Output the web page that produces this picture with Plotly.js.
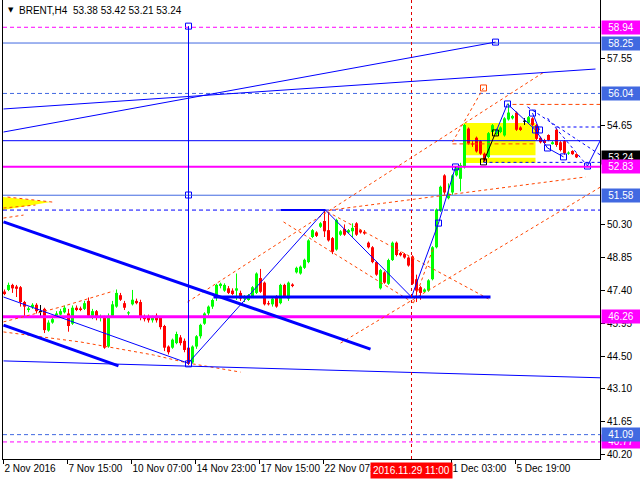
<!DOCTYPE html>
<html><head><meta charset="utf-8">
<script src="https://cdn.plot.ly/plotly-3.0.1.min.js"></script>
<style>html,body{margin:0;padding:0;background:#fff}#chart{width:640px;height:480px}</style>
</head><body><div id="chart"></div>
<script>
// ---- OHLC data (BRENT H4), bar index 0..143 ----
const openP = [47.36,47.43,47.65,47.58,47.55,46.90,46.55,46.68,46.78,46.46,
46.60,45.65,46.00,46.25,46.35,46.45,46.40,45.95,46.65,46.62,
46.60,46.95,46.30,46.50,46.20,46.20,44.95,46.30,46.70,47.20,
46.85,46.40,46.80,46.95,46.90,46.25,46.25,46.10,46.30,46.20,
45.85,44.95,44.90,45.10,45.35,45.20,44.90,44.25,44.95,45.40,
45.95,46.40,46.70,47.10,47.60,47.40,47.50,47.40,47.40,47.30,
47.05,46.99,47.15,47.30,47.95,47.75,46.85,46.80,47.10,46.85,
47.65,47.05,47.67,48.20,48.15,48.40,48.65,49.75,49.95,50.20,
50.45,50.05,49.70,49.20,49.85,50.10,49.95,50.00,50.35,50.05,
49.98,49.50,49.30,48.65,47.50,48.20,47.70,48.74,49.50,49.05,
49.00,48.85,48.90,47.90,47.55,47.35,47.40,47.90,49.30,50.90,
52.45,51.45,51.70,52.45,52.30,52.80,54.50,53.85,54.10,53.95,
53.40,53.25,54.35,54.25,54.35,54.20,54.90,54.95,55.20,54.55,
54.80,54.75,54.95,54.65,54.10,54.00,54.22,53.82,54.45,53.90,
53.95,53.40,53.52,53.38];
const highP = [47.45,47.75,47.70,47.65,47.60,46.95,46.70,46.85,46.85,46.77,
46.65,46.10,46.25,46.50,46.60,46.75,46.60,46.75,46.75,46.70,
46.95,47.10,46.60,46.55,46.35,46.30,46.40,46.95,47.45,47.30,
46.95,46.50,47.43,47.05,47.00,46.35,46.35,46.30,46.40,46.25,
45.90,45.00,45.30,45.60,45.45,45.30,45.00,45.00,45.45,45.95,
46.45,46.75,47.05,47.70,47.75,47.72,47.60,47.50,48.15,47.40,
47.20,47.25,47.60,48.20,48.35,47.80,46.95,47.10,47.20,47.70,
47.70,47.80,47.72,48.45,48.50,48.80,49.65,50.10,50.00,50.40,
50.90,50.85,49.75,50.55,50.05,50.30,50.10,50.35,50.40,50.10,
50.05,49.55,49.35,48.70,48.35,48.25,48.80,49.55,49.55,49.10,
49.05,48.90,48.95,48.10,47.60,47.50,47.90,49.35,51.00,52.00,
52.50,52.10,52.50,52.85,53.00,54.70,54.55,53.95,54.15,54.00,
53.45,54.35,54.70,54.50,54.60,55.00,55.60,55.10,55.25,54.60,
54.96,55.05,55.00,54.70,54.15,54.05,54.25,53.95,54.50,53.95,
54.00,53.50,53.55,53.42];
const lowP = [47.20,47.38,47.30,47.12,46.70,46.20,46.45,46.60,46.40,46.20,
45.54,45.60,45.95,46.20,46.30,46.40,45.60,45.90,46.50,46.50,
46.55,46.20,46.15,46.10,46.05,44.85,44.90,46.25,46.65,46.95,
46.55,46.30,46.75,46.80,46.10,46.05,46.00,46.00,46.00,45.70,
44.75,44.60,44.85,45.05,45.00,44.70,44.14,44.20,44.85,45.30,
45.90,46.30,46.60,46.95,47.50,47.35,47.25,47.20,46.99,46.95,
46.90,46.95,47.10,47.25,47.30,46.75,46.75,46.70,46.65,46.80,
47.10,46.95,47.55,48.15,48.10,48.35,48.60,49.70,49.75,50.15,
49.75,49.55,49.00,49.15,49.80,49.80,49.90,49.75,49.80,49.90,
49.85,49.25,48.60,48.05,47.45,47.70,47.65,48.70,48.90,48.90,
48.80,48.45,47.65,46.90,47.00,47.30,47.35,47.85,49.25,50.85,
51.60,51.40,51.60,52.40,51.75,52.75,53.80,53.70,53.45,53.35,
53.05,53.20,54.30,54.20,54.30,54.15,54.85,54.90,54.40,54.40,
54.66,54.70,54.60,54.00,53.85,53.80,53.95,53.80,53.70,53.50,
53.35,53.35,53.35,53.21];
const closeP = [47.25,47.65,47.50,47.48,46.90,46.70,46.62,46.78,46.50,46.46,
45.67,46.00,46.15,46.40,46.50,46.65,45.85,46.65,46.55,46.55,
46.85,46.30,46.50,46.20,46.25,44.90,46.30,46.80,47.30,47.00,
46.65,46.45,47.00,46.85,46.20,46.15,46.10,46.20,46.10,45.80,
44.90,44.70,45.25,45.50,45.10,44.80,44.20,44.95,45.40,45.90,
46.40,46.70,46.99,47.65,47.70,47.65,47.30,47.25,47.50,47.05,
47.10,47.20,47.55,48.15,47.35,46.80,46.80,47.05,46.70,47.65,
47.15,47.75,47.60,48.40,48.45,48.75,49.60,50.05,49.80,50.35,
50.00,49.60,49.10,50.50,50.00,49.85,50.05,50.15,49.85,49.95,
49.90,49.30,48.65,48.10,48.30,47.75,48.74,49.50,48.96,48.95,
48.85,48.50,47.70,47.40,47.30,47.45,47.85,49.30,50.95,51.95,
51.70,51.65,52.45,52.82,52.90,54.66,53.85,53.80,53.50,53.40,
53.10,54.30,54.65,54.45,54.55,54.95,55.20,55.05,54.45,54.44,
54.80,55.00,54.66,54.05,53.90,53.87,54.00,53.90,53.78,53.56,
53.43,53.45,53.38,53.24];

// ---- axis labels ----
const xTickBars = [0,16,32,48,64,80,112,128];
const xTickText = ['2 Nov 2016','7 Nov 15:00','10 Nov 07:00','14 Nov 23:00','17 Nov 15:00','22 Nov 07:00','1 Dec 03:00','5 Dec 19:00'];
const yTickVals = [57.55,54.65,50.30,48.85,47.40,45.95,44.50,43.10,41.65,40.20];
const yTickText = ['57.55','54.65','50.30','48.85','47.40','45.95','44.50','43.10','41.65','40.20'];
const titleText = 'BRENT,H4\u00a0\u00a053.38 53.42 53.21 53.24';
const cursorBar = 101.75;
const cursorText = '2016.11.29 11:00';

// ---- drawn objects (bar index, price) ----
const levels = [58.94,58.25,56.04,53.97,52.83,51.58,50.93,46.26,41.09,40.77];
const labelVals = [58.94,58.25,56.04,53.24,52.83,51.58,46.26,40.77,41.09];
const thickBlueSegs = [[52.25,47.12,121.5,47.12],[-0.25,50.41,91.5,44.84],[-0.25,45.89,28.5,44.10]];
const midBlueSegs = [[69,50.93,80.25,50.93]];
const thinBlueSegs = [[-0.25,54.35,122.75,58.29],[-0.25,55.36,147.75,57.11],[-0.25,44.32,149,43.58],
  [-0.25,47.12,45.75,44.23],[46,44.19,46,58.99],[132,55.18,133.75,54.44],[145.75,52.86,149,54.0]];
const thinBluePolys = [[[45.75,44.19],[80.25,50.93],[101.75,47.12],[108.5,50.36],[112.75,52.82]],
  [[122.75,54.31],[125.75,55.58],[132.75,54.44],[135.75,53.65],[139.75,53.26]]];
const dashBlueSegs = [[137.75,54.57,149,54.57],[119.75,53.02,149,53.02],[130.75,55.45,149,53.34],[135.75,54.96,145.75,52.86]];
const blackSegs = [[119.75,53.04,122.75,54.31]];
const orangeDashSegs = [[127,55.56,149,55.56],[112,53.83,132.75,53.83]];
const orangeDotSegs = [[45.75,46.90,135.25,57.02],[84,45.10,149,51.94],[79.75,50.89,145.25,52.38],[112,53.91,119.75,56.28],
  [69.75,50.41,102.25,46.86],[80.75,50.85,121.5,46.99],[102.25,46.86,107.25,49.31],[-0.25,50.58,4.75,50.71],
  [0.75,51.50,12,51.28],[-0.25,51.02,7.75,51.15]];
const orangeDotPolys = [[[-0.25,46.03],[14,46.68],[27.25,47.38]],
  [[-0.25,45.59],[19,45.15],[37.25,44.58],[45.75,44.23],[59,43.83]]];
const yellowRects = [[114.75,53.33,132.75,54.745],[114.75,52.99,132.75,53.22]];
const yellowTri = [[-0.5,51.50],[11.5,51.28],[-0.5,50.93]];
const blueSqX = [46,46,46,122.75,108.5,112.75,125.75,132,132.75,133.75,135.75,139.75,145.75];
const blueSqY = [58.99,51.59,44.19,58.29,50.36,52.82,55.58,55.18,54.44,54.44,53.65,53.26,52.86];
const blackSqX = [119.75,122.75];
const blackSqY = [53.04,54.31];
const orangeSqX = [119.75];
const orangeSqY = [56.28];

// ---- styles ----
const BLUE='#0000FF', ROYAL='#4169E1', MAG='#FF00FF', ORANGE='#FF4500', UP='#00FF00', DOWN='#FF0000';
const FONT='Liberation Sans, Arial, sans-serif';
const levelColor = [MAG,ROYAL,ROYAL,BLUE,MAG,ROYAL,BLUE,MAG,ROYAL,MAG];
const levelDash = ['4px,3px','solid','4px,3px','solid','solid','solid','4px,3px','solid','4px,3px','4px,3px'];
const levelWidth = [1,1,1,1,2,1,1,3,1,1];
const labelColor = [MAG,ROYAL,ROYAL,'#000000',MAG,ROYAL,MAG,MAG,ROYAL];

// ---- candle traces ----
function group(pred, color){
  const bx=[], bb=[], bh=[], wx=[], wy=[];
  for(let i=0;i<openP.length;i++){
    if(!pred(openP[i],closeP[i])) continue;
    const lo=Math.min(openP[i],closeP[i]);
    bx.push(i); bb.push(lo); bh.push(Math.max(Math.abs(closeP[i]-openP[i]),0.045));
    wx.push(i,i,null); wy.push(lowP[i],highP[i],null);
  }
  return [
    {type:'scatter',mode:'lines',x:wx,y:wy,line:{color:color,width:1},hoverinfo:'skip',connectgaps:false},
    {type:'bar',x:bx,base:bb,y:bh,width:0.75,marker:{color:color,line:{width:0}},hoverinfo:'skip'}
  ];
}
const traces = [].concat(
  group((o,c)=>c>o, UP),
  group((o,c)=>c<o, DOWN),
  group((o,c)=>c===o, '#000000'),
  [{type:'scatter',mode:'markers',x:blueSqX,y:blueSqY,marker:{symbol:'square-open',size:6,color:BLUE,line:{width:1}},hoverinfo:'skip'},
   {type:'scatter',mode:'markers',x:blackSqX,y:blackSqY,marker:{symbol:'square-open',size:6,color:'#000',line:{width:1}},hoverinfo:'skip'},
   {type:'scatter',mode:'markers',x:orangeSqX,y:orangeSqY,marker:{symbol:'square-open',size:6,color:ORANGE,line:{width:1}},hoverinfo:'skip'}]
);

// ---- shapes ----
const shapes = [];
yellowRects.forEach(r=>shapes.push({type:'rect',xref:'x',yref:'y',x0:r[0],y0:r[1],x1:r[2],y1:r[3],fillcolor:'#FFFF00',line:{width:0},layer:'below'}));
shapes.push({type:'path',xref:'x',yref:'y',layer:'below',fillcolor:'#FFFF00',line:{width:0},
  path:'M'+yellowTri.map(p=>p[0]+','+p[1]).join(' L')+' Z'});
levels.forEach((v,i)=>shapes.push({type:'line',xref:'paper',yref:'y',x0:0,x1:1,y0:v,y1:v,
  line:{color:levelColor[i],width:levelWidth[i],dash:levelDash[i]}}));
function segs(arr,color,width,dash){
  arr.forEach(s=>shapes.push({type:'line',xref:'x',yref:'y',x0:s[0],y0:s[1],x1:s[2],y1:s[3],line:{color:color,width:width,dash:dash}}));
}
function polys(arr,color,width,dash){
  arr.forEach(p=>shapes.push({type:'path',xref:'x',yref:'y',path:'M'+p.map(q=>q[0]+','+q[1]).join(' L'),line:{color:color,width:width,dash:dash}}));
}
segs(orangeDotSegs,ORANGE,1,'3px,3px');
polys(orangeDotPolys,ORANGE,1,'3px,3px');
segs(orangeDashSegs,ORANGE,1,'4px,3px');
segs(thickBlueSegs,BLUE,3,'solid');
segs(midBlueSegs,BLUE,2,'solid');
segs(thinBlueSegs,BLUE,1,'solid');
polys(thinBluePolys,BLUE,1,'solid');
segs(dashBlueSegs,BLUE,1,'3px,3px');
segs(blackSegs,'#000000',1,'solid');
shapes.push({type:'line',xref:'x',yref:'paper',x0:cursorBar,x1:cursorBar,y0:0,y1:1,line:{color:'#E00000',width:1,dash:'3px,3px'}});

// ---- annotations ----
const annotations = [];
labelVals.forEach((v,i)=>annotations.push({xref:'paper',yref:'y',x:1,y:v,xanchor:'left',yanchor:'middle',xshift:1,
  text:v.toFixed(2),showarrow:false,bgcolor:labelColor[i],font:{family:FONT,size:10,color:'#FFFFFF'},
  width:36,height:11,borderpad:1,align:'center'}));
annotations.push({xref:'paper',yref:'paper',x:0,y:1,xanchor:'left',yanchor:'top',xshift:3,yshift:-4,
  text:'\u25BC',showarrow:false,font:{family:'DejaVu Sans, sans-serif',size:7,color:'#000'}});
annotations.push({xref:'paper',yref:'paper',x:0,y:1,xanchor:'left',yanchor:'top',xshift:14,yshift:-3,
  text:titleText,showarrow:false,font:{family:FONT,size:10,color:'#000'}});
annotations.push({xref:'x',yref:'paper',x:cursorBar,y:0,xanchor:'center',yanchor:'top',yshift:-3,
  text:cursorText,showarrow:false,bgcolor:'#FF0000',borderpad:2,font:{family:FONT,size:10,color:'#FFFFFF'}});

const layout = {
  width:640,height:480,
  margin:{l:3,r:40,t:0,b:21,pad:0},
  paper_bgcolor:'#FFFFFF',plot_bgcolor:'#FFFFFF',
  showlegend:false,barmode:'overlay',
  xaxis:{range:[-0.375,148.875],showgrid:false,zeroline:false,showline:true,linecolor:'#000',linewidth:1,
    tickvals:xTickBars.map(b=>b-0.25),ticktext:xTickText,ticks:'outside',ticklen:4,tickcolor:'#000',tickangle:0,
    automargin:false,ticklabelposition:'outside right',tickfont:{family:FONT,size:10,color:'#000'},fixedrange:true},
  yaxis:{side:'right',range:[40.022,60.135],showgrid:false,zeroline:false,showline:true,mirror:true,automargin:false,
    linecolor:'#000',linewidth:1,tickvals:yTickVals,ticktext:yTickText,ticks:'outside',ticklen:4,tickcolor:'#000',
    tickfont:{family:FONT,size:10,color:'#000'},fixedrange:true},
  shapes:shapes,annotations:annotations
};
Plotly.newPlot('chart',traces,layout,{staticPlot:true,displayModeBar:false});
</script>
</body></html>
